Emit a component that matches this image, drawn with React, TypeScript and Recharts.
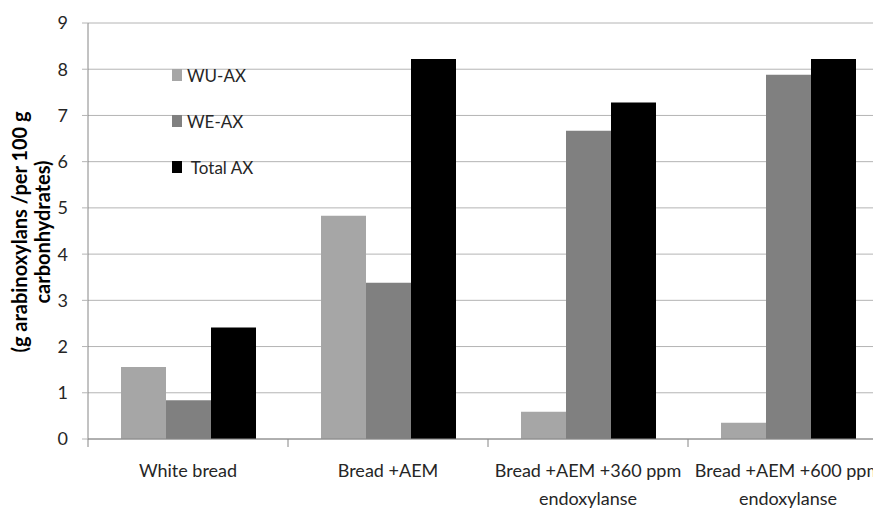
import React from 'react';
import { BarChart, Bar, XAxis, YAxis, CartesianGrid, Legend } from 'recharts';

// values
const categories = [
  'White bread',
  'Bread +AEM',
  'Bread +AEM +360 ppm\nendoxylanse',
  'Bread +AEM +600 ppm\nendoxylanse',
];
const wuAx = [1.56, 4.83, 0.59, 0.35];
const weAx = [0.84, 3.38, 6.67, 7.88];
const totalAx = [2.41, 8.22, 7.28, 8.22];
const seriesNames = ['WU-AX', 'WE-AX', ' Total AX'];
const yTicks = [0, 1, 2, 3, 4, 5, 6, 7, 8, 9];

const FONT = 'Lato, "Open Sans", sans-serif';

const data = categories.map((name, i) => ({
  name,
  wu: wuAx[i],
  we: weAx[i],
  total: totalAx[i],
}));

// category labels in the middle, tick marks on the boundaries between groups
const CategoryTick = (props: any) => {
  const { x, y, payload, width } = props;
  const half = (width || 800) / (2 * categories.length);
  const lines = String(payload.value).split('\n');
  return (
    <g>
      <line x1={x - half} x2={x - half} y1={y - 8} y2={y} stroke="#868686" />
      {lines.map((l, i) => (
        <text key={i} x={x} y={y + 30 + i * 28} textAnchor="middle" fill="#262626" fontSize={18} fontFamily={FONT}>
          {l}
        </text>
      ))}
    </g>
  );
};

const YLabel = (props: any) => {
  const cy = props.viewBox ? props.viewBox.y + props.viewBox.height / 2 + 1 : 232;
  return (
    <g fontFamily={FONT} fontWeight="bold" fontSize={20} fill="#000">
      <text x={19} y={cy} textAnchor="middle" dominantBaseline="central" transform={`rotate(-90 19 ${cy})`}>
        (g arabinoxylans /per 100 g
      </text>
      <text x={42} y={cy} textAnchor="middle" dominantBaseline="central" transform={`rotate(-90 42 ${cy})`}>
        carbonhydrates)
      </text>
    </g>
  );
};

const LegendContent = (props: any) => {
  const items = [...(props.payload || [])].sort(
    (a: any, b: any) => seriesNames.indexOf(a.value) - seriesNames.indexOf(b.value)
  );
  return (
    <div style={{ fontFamily: FONT, fontSize: 17, color: '#262626' }}>
      {items.map((it: any, i: number) => (
        <div key={i} style={{ height: 46, display: 'flex', alignItems: 'center' }}>
          <span style={{ width: 10, height: 12, background: it.color, display: 'inline-block', marginRight: 5 }} />
          <span style={{ whiteSpace: 'pre' }}>{it.value}</span>
        </div>
      ))}
    </div>
  );
};

export default function App() {
  return (
    <div style={{ position: 'fixed', left: 0, top: 0, width: 873, height: 508, overflow: 'hidden', background: '#fff' }}>
      <BarChart
        width={900}
        height={508}
        data={data}
        margin={{ top: 23, right: 12, bottom: 0, left: 0 }}
        barCategoryGap="16.5%"
        barGap={0}
      >
        <CartesianGrid horizontal vertical={false} stroke="#b4b4b4" />
        <XAxis
          dataKey="name"
          height={69}
          axisLine={{ stroke: '#868686' }}
          tickLine={false}
          tickSize={8}
          tickMargin={0}
          interval={0}
          tick={<CategoryTick />}
        />
        <YAxis
          width={88}
          domain={[0, 9]}
          ticks={yTicks}
          interval={0}
          axisLine={{ stroke: '#868686' }}
          tickLine={{ stroke: '#b4b4b4' }}
          tickSize={6}
          tickMargin={14}
          tick={{ fill: '#262626', fontSize: 18, fontFamily: FONT }}
          label={<YLabel />}
        />
        <Legend
          layout="vertical"
          align="center"
          verticalAlign="middle"
          content={<LegendContent />}
          wrapperStyle={{ left: 172, top: 52, width: 'auto' }}
        />
        <Bar dataKey="wu" name={seriesNames[0]} fill="#a6a6a6" isAnimationActive={false} />
        <Bar dataKey="we" name={seriesNames[1]} fill="#808080" isAnimationActive={false} />
        <Bar dataKey="total" name={seriesNames[2]} fill="#000000" isAnimationActive={false} />
      </BarChart>
    </div>
  );
}
